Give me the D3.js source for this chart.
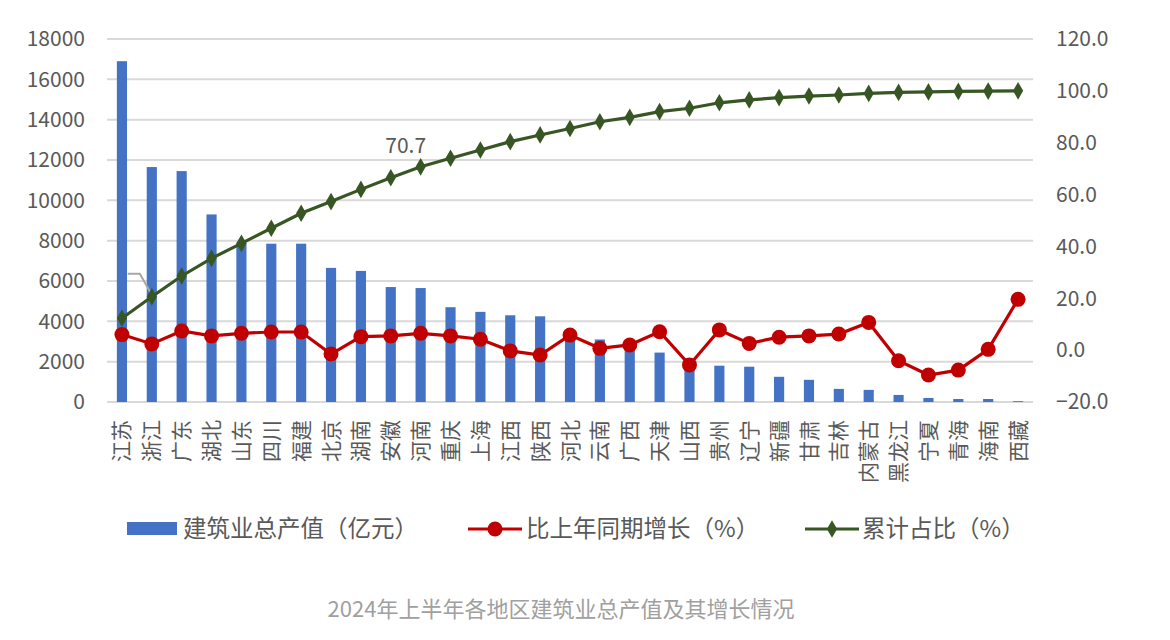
<!DOCTYPE html>
<html>
<head>
<meta charset="utf-8">
<script src="https://cdn.jsdelivr.net/npm/d3@7"></script>
<style>
  body { margin: 0; background: #fff; }
  text { font-family: "Noto Sans CJK SC", "Noto Sans", sans-serif; }
</style>
</head>
<body>
<script>
// categories and series
var regions = ["江苏","浙江","广东","湖北","山东","四川","福建","北京","湖南","安徽","河南","重庆","上海","江西","陕西","河北","云南","广西","天津","山西","贵州","辽宁","新疆","甘肃","吉林","内蒙古","黑龙江","宁夏","青海","海南","西藏"];
var output = [16900,11650,11450,9300,7900,7850,7850,6650,6500,5700,5650,4700,4470,4300,4250,3300,3100,2850,2450,2100,1800,1750,1250,1100,650,600,350,200,150,150,40];
var growth = [6.0,2.4,7.4,5.5,6.5,7.0,7.0,-1.5,5.2,5.5,6.5,5.5,4.2,-0.3,-1.9,5.8,0.7,2.0,7.1,-5.7,7.8,2.6,5.0,5.5,6.2,10.7,-4.1,-9.6,-7.7,0.3,19.6];
var cumulative = [12.3,20.6,28.6,35.4,41.2,47.0,52.8,57.3,62.0,66.5,70.7,74.0,77.2,80.4,83.0,85.5,88.1,89.8,92.0,93.3,95.4,96.5,97.4,98.0,98.4,99.0,99.4,99.6,99.8,99.9,100.0];
var leftTicks = [0,2000,4000,6000,8000,10000,12000,14000,16000,18000];
var rightTicks = [-20,0,20,40,60,80,100,120];
var labelIndex = 10; // only 河南 carries a data label

var legendNames = ["建筑业总产值（亿元）","比上年同期增长（%）","累计占比（%）"];
var title = "2024年上半年各地区建筑业总产值及其增长情况";

var W = 1170, H = 640;
var margin = {top: 39, left: 107, right: 137, bottom: 238};
var plotW = W - margin.left - margin.right,
    plotH = H - margin.top - margin.bottom;

var svg = d3.select("body").append("svg")
    .attr("width", W).attr("height", H);

var g = svg.append("g")
    .attr("transform", "translate(" + margin.left + "," + margin.top + ")");

var x = d3.scaleBand().domain(regions).range([0, plotW]).paddingInner(0.66).paddingOuter(0.33);
var yL = d3.scaleLinear().domain([0, 18000]).range([plotH, 0]);
var yR = d3.scaleLinear().domain([-20, 120]).range([plotH, 0]);
var cx = function(d, i) { return x(regions[i]) + x.bandwidth() / 2; };

//gridlines from the left axis
g.append("g").selectAll("line")
    .data(leftTicks).enter().append("line")
    .attr("x1", 0).attr("x2", plotW)
    .attr("y1", function(d) { return yL(d); })
    .attr("y2", function(d) { return yL(d); })
    .attr("stroke", "#d9d9d9").attr("stroke-width", 2);

//left axis labels
var axisL = g.append("g").call(d3.axisLeft(yL).tickValues(leftTicks).tickSize(0).tickPadding(22).tickFormat(d3.format("d")));
axisL.select(".domain").remove();
axisL.selectAll("text").attr("fill", "#595959").style("font-size", "21px");

//right axis labels
var axisR = g.append("g").attr("transform", "translate(" + plotW + ",0)")
    .call(d3.axisRight(yR).tickValues(rightTicks).tickSize(0).tickPadding(23).tickFormat(d3.format(".1f")));
axisR.select(".domain").remove();
axisR.selectAll("text").attr("fill", "#595959").style("font-size", "21px");

//bars
g.append("g").selectAll("rect")
    .data(output).enter().append("rect")
    .attr("x", function(d, i) { return x(regions[i]); })
    .attr("width", x.bandwidth())
    .attr("y", function(d) { return yL(d); })
    .attr("height", function(d) { return plotH - yL(d); })
    .attr("fill", "#4472c4");

//category labels, rotated
g.append("g").selectAll("text")
    .data(regions).enter().append("text")
    .attr("transform", function(d) { return "translate(" + (x(d) + x.bandwidth() / 2) + "," + (plotH + 18) + ") rotate(-90)"; })
    .attr("text-anchor", "end")
    .attr("dy", "0.36em")
    .attr("fill", "#595959")
    .style("font-size", "21px")
    .text(function(d) { return d; });

//leader line left over from a hidden label
var p1 = [cx(null, 1), yR(cumulative[1])];
g.append("path")
    .attr("d", "M" + (p1[0] - 24) + "," + (p1[1] - 23) + "h12L" + p1[0] + "," + (p1[1] - 2))
    .attr("fill", "none").attr("stroke", "#a6a6a6").attr("stroke-width", 2);

//growth line
var redLine = d3.line().x(cx).y(function(d) { return yR(d); });
g.append("path").datum(growth)
    .attr("d", redLine).attr("fill", "none")
    .attr("stroke", "#c00000").attr("stroke-width", 3.2);
g.append("g").selectAll("circle")
    .data(growth).enter().append("circle")
    .attr("cx", cx).attr("cy", function(d) { return yR(d); })
    .attr("r", 7.5).attr("fill", "#c00000");

//cumulative share line
g.append("path").datum(cumulative)
    .attr("d", redLine).attr("fill", "none")
    .attr("stroke", "#375623").attr("stroke-width", 3.2);
var diamond = d3.symbol().type(d3.symbolDiamond).size(90);
g.append("g").selectAll("path")
    .data(cumulative).enter().append("path")
    .attr("d", diamond)
    .attr("transform", function(d, i) { return "translate(" + cx(d, i) + "," + yR(d) + ")"; })
    .attr("fill", "#375623");

g.append("text")
    .attr("x", cx(null, labelIndex) - 15)
    .attr("y", yR(cumulative[labelIndex]) - 14)
    .attr("text-anchor", "middle")
    .attr("fill", "#595959")
    .style("font-size", "21px")
    .text(cumulative[labelIndex].toFixed(1));

//legend
var legend = svg.append("g").attr("transform", "translate(0,529)");
legend.append("rect").attr("x", 127).attr("y", -7).attr("width", 50).attr("height", 13).attr("fill", "#4472c4");
legend.append("line").attr("x1", 468).attr("x2", 522).attr("stroke", "#c00000").attr("stroke-width", 3.2);
legend.append("circle").attr("cx", 495).attr("r", 7.5).attr("fill", "#c00000");
legend.append("line").attr("x1", 805).attr("x2", 859).attr("stroke", "#375623").attr("stroke-width", 3.2);
legend.append("path").attr("d", diamond).attr("transform", "translate(832,0)").attr("fill", "#375623");
legend.selectAll("text")
    .data(legendNames).enter().append("text")
    .attr("x", function(d, i) { return [183, 526, 862][i]; })
    .attr("dy", "0.35em")
    .attr("fill", "#595959")
    .style("font-size", "23.5px")
    .text(function(d) { return d; });

//caption
svg.append("text")
    .attr("x", 561).attr("y", 609)
    .attr("text-anchor", "middle")
    .attr("dy", "0.35em")
    .attr("fill", "#a0a0a0")
    .style("font-size", "22px")
    .text(title);
</script>
</body>
</html>
